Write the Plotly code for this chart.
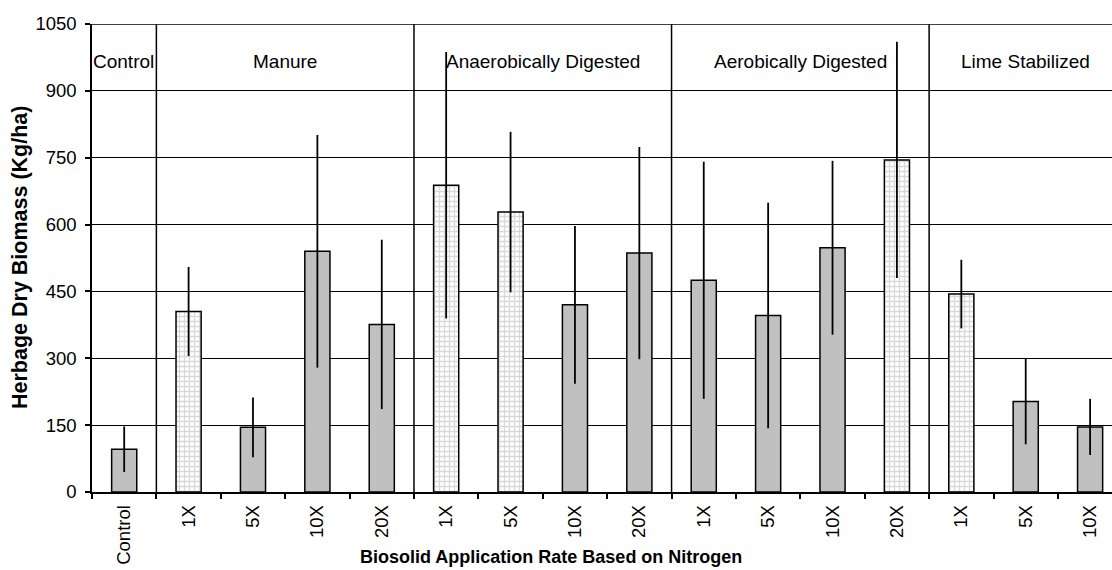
import plotly.graph_objects as go

# ---- data ----
tick_labels = ["Control", "1X", "5X", "10X", "20X",
               "1X", "5X", "10X", "20X",
               "1X", "5X", "10X", "20X",
               "1X", "5X", "10X"]
means = [96, 405, 145, 540, 376,
         688, 628, 420, 536,
         475, 396, 548, 745,
         444, 203, 146]
errors = [51, 100, 67, 261, 190,
          299, 180, 177, 238,
          266, 253, 195, 265,
          77, 96, 63]
patterned = [False, True, False, False, False,
             True, True, False, False,
             False, False, False, True,
             True, False, False]
groups = ["Control", "Manure", "Anaerobically Digested",
          "Aerobically Digested", "Lime Stabilized"]
group_sizes = [1, 4, 4, 4, 3]
y_ticks = [0, 150, 300, 450, 600, 750, 900, 1050]

FONT = "Liberation Sans, Arial"
x = list(range(len(means)))

solid_idx = [i for i, p in enumerate(patterned) if not p]
pat_idx = [i for i, p in enumerate(patterned) if p]

fig = go.Figure()
fig.add_trace(go.Bar(
    x=[x[i] for i in solid_idx], y=[means[i] for i in solid_idx], width=0.39,
    marker=dict(color="#c0c0c0", line=dict(color="black", width=1.5)),
    error_y=dict(type="data", array=[errors[i] for i in solid_idx], visible=True,
                 width=0, thickness=1.8, color="black"),
    showlegend=False,
))
fig.add_trace(go.Bar(
    x=[x[i] for i in pat_idx], y=[means[i] for i in pat_idx], width=0.39,
    marker=dict(color="white", line=dict(color="black", width=1.5),
                pattern=dict(shape="+", fgcolor="#b4b4b4", bgcolor="white",
                             size=5, solidity=0.45, fillmode="overlay")),
    error_y=dict(type="data", array=[errors[i] for i in pat_idx], visible=True,
                 width=0, thickness=1.8, color="black"),
    showlegend=False,
))

# group separators and labels
shapes = []
annotations = []
start = 0
for g, n in zip(groups, group_sizes):
    end = start + n
    if end < len(means):
        b = end - 0.5
        shapes.append(dict(type="line", xref="x", yref="y", x0=b, x1=b, y0=0, y1=1050,
                           line=dict(color="black", width=1.5), layer="above"))
    start = end
# top border
shapes.append(dict(type="line", xref="paper", yref="y", x0=0, x1=1, y0=1050, y1=1050,
                   line=dict(color="black", width=1.5)))

start = 0
for i, (g, n) in enumerate(zip(groups, group_sizes)):
    if i == 0:
        annotations.append(dict(x=start - 0.5, y=965, xref="x", yref="y", text=g,
                                showarrow=False, xanchor="left", xshift=-1,
                                font=dict(family=FONT, size=19, color="black")))
    else:
        annotations.append(dict(x=start + (n - 1) / 2, y=965, xref="x", yref="y", text=g,
                                showarrow=False, xanchor="center",
                                font=dict(family=FONT, size=19, color="black")))
    start += n

# axis titles
annotations.append(dict(text="<b>Biosolid Application Rate Based on Nitrogen</b>",
                        xref="paper", yref="paper", x=(551 - 92) / 1020, y=-(557 - 492) / 468,
                        xanchor="center", yanchor="middle", showarrow=False,
                        font=dict(family=FONT, size=18, color="black")))
annotations.append(dict(text="<b>Herbage Dry Biomass (Kg/ha)</b>", textangle=-90,
                        xref="paper", yref="paper", x=-(92 - 20) / 1020, y=0.5,
                        xanchor="center", yanchor="middle", showarrow=False,
                        font=dict(family=FONT, size=21.5, color="black")))

fig.update_layout(
    width=1112, height=570,
    margin=dict(l=92, r=0, t=24, b=78),
    paper_bgcolor="white", plot_bgcolor="white",
    font=dict(family=FONT, size=18.5, color="black"),
    shapes=shapes, annotations=annotations,
    barmode="overlay",
)
fig.update_xaxes(
    range=[-0.5, 15.34], automargin=False,
    tickmode="array", tickvals=x, ticktext=tick_labels, tickangle=-90,
    ticks="", ticklabelstandoff=4,
    showline=True, linecolor="black", linewidth=1.5,
    showgrid=False, zeroline=False,
    minor=dict(tickmode="array", tickvals=[i - 0.5 for i in range(len(means) + 1)],
               ticks="outside", ticklen=5, tickwidth=1.5, tickcolor="black", showgrid=False),
)
fig.update_yaxes(
    range=[0, 1050], automargin=False, tickmode="array", tickvals=y_ticks,
    ticks="outside", ticklen=5, tickwidth=1.5, tickcolor="black", ticklabelstandoff=5,
    showline=True, linecolor="black", linewidth=1.5,
    showgrid=True, gridcolor="black", gridwidth=1,
    zeroline=False,
)

fig.write_html(
    "out.html",
    config={"displayModeBar": False},
    post_script="document.body.style.margin='0';document.body.style.overflow='hidden';",
)
